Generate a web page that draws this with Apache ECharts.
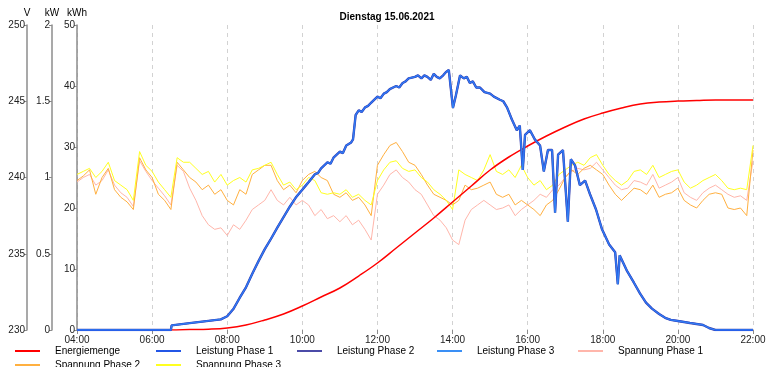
<!DOCTYPE html>
<html><head><meta charset="utf-8">
<script src="https://cdn.jsdelivr.net/npm/echarts@6/dist/echarts.min.js"></script>
<style>html,body{margin:0;padding:0;background:#fff}#c{width:774px;height:367px}</style>
</head><body><div id="c"></div>
<script>
// ---- data ----
const title = 'Dienstag 15.06.2021';
const seriesNames = ['Energiemenge','Leistung Phase 1','Leistung Phase 2','Leistung Phase 3','Spannung Phase 1','Spannung Phase 2','Spannung Phase 3'];
const xTicks = [4,6,8,10,12,14,16,18,20,22];

// Energiemenge (kWh), every 30 min from 04:00 to 22:00
const energyStartHour = 4, energyStepHour = 0.5;
const energiemenge = [0,0,0,0,0,0,0.07,0.13,0.33,0.82,1.64,2.62,3.93,5.41,6.89,8.85,10.98,13.44,15.9,18.36,20.98,23.61,26.23,28.36,30.16,31.8,33.28,34.59,35.57,36.39,37.05,37.38,37.54,37.62,37.7,37.7,37.7];

// Leistung (kW): hour / value pairs
const leistungHours = [4,6.5,6.52,7,7.5,7.83,8,8.17,8.33,8.5,8.67,8.83,9,9.17,9.33,9.5,9.67,9.83,10,10.1,10.17,10.33,10.42,10.5,10.67,10.75,10.83,11,11.08,11.17,11.3,11.35,11.42,11.5,11.58,11.67,11.75,11.83,12,12.08,12.17,12.25,12.33,12.5,12.58,12.67,12.75,12.83,13,13.08,13.17,13.25,13.33,13.42,13.5,13.58,13.66,13.75,13.82,13.9,14.01,14.09,14.2,14.3,14.38,14.46,14.54,14.63,14.73,14.85,15,15.1,15.26,15.35,15.45,15.58,15.71,15.79,15.87,15.93,16.06,16.19,16.33,16.43,16.54,16.65,16.73,16.81,16.94,17.07,17.15,17.26,17.39,17.53,17.66,17.82,17.98,18.17,18.33,18.38,18.4,18.45,18.64,18.83,18.99,19.15,19.31,19.5,19.66,19.81,20,20.32,20.67,20.83,21,22];
const leistungP1 = [0,0,0.03,0.045,0.06,0.07,0.09,0.14,0.21,0.28,0.37,0.45,0.53,0.6,0.67,0.74,0.81,0.87,0.92,0.95,0.97,1.02,1.03,1.06,1.1,1.09,1.13,1.17,1.16,1.21,1.23,1.25,1.41,1.44,1.43,1.46,1.47,1.49,1.53,1.52,1.55,1.56,1.58,1.6,1.59,1.62,1.63,1.65,1.66,1.67,1.65,1.67,1.66,1.64,1.68,1.66,1.65,1.67,1.69,1.705,1.456,1.54,1.67,1.65,1.66,1.62,1.63,1.59,1.59,1.56,1.55,1.53,1.51,1.5,1.46,1.38,1.31,1.34,1.05,1.28,1.31,1.25,1.21,1.04,1.18,1.18,0.77,1.15,1.18,0.71,1.12,1.08,0.95,0.98,0.89,0.79,0.66,0.56,0.51,0.52,0.3,0.49,0.39,0.31,0.24,0.18,0.14,0.105,0.08,0.066,0.059,0.046,0.033,0.013,0,0];
const leistungP2 = leistungP1.slice();
const leistungP3 = leistungP1.slice();

// Spannung (V), every 10 min from 04:00 to 22:00
const voltStartHour = 4, voltStepHour = 1/6;
const spannungP1 = [239.7,240.0,240.2,239.5,239.8,240.5,239.5,239.0,238.7,238.1,241.1,240.4,239.8,239.3,238.8,238.2,240.8,240.4,239.3,238.5,237.5,236.9,236.6,236.7,236.2,236.9,236.6,237.2,237.9,238.2,238.5,239.2,238.5,238.2,238.7,238.2,238.5,238.2,237.5,237.9,237.3,237.5,237.1,237.5,236.9,237.2,236.6,235.9,238.9,239.5,240.2,240.5,240.0,239.7,239.2,238.9,238.2,237.5,237.2,236.7,235.9,235.6,237.2,237.9,238.2,238.5,238.2,237.9,238.0,238.2,237.5,237.9,238.2,238.5,238.9,238.7,239.2,239.5,240.0,240.4,240.6,240.5,240.6,241.0,240.5,240.0,239.5,239.2,239.3,239.8,239.7,239.5,240.2,239.3,239.5,239.7,240.0,239.0,238.7,238.5,239.0,239.3,239.5,239.2,238.9,238.7,238.8,238.5,241.1];
const spannungP2 = [239.8,240.1,240.5,238.9,240.0,240.6,239.2,238.7,238.4,237.9,241.3,240.5,240.0,238.9,238.5,237.9,241.0,240.5,240.0,239.7,239.2,239.5,238.9,239.2,238.5,238.2,239.2,238.9,240.2,240.5,240.8,240.8,239.8,239.2,239.5,239.0,239.8,240.2,240.4,240.0,239.8,238.9,238.7,239.0,238.5,238.7,238.2,237.5,240.8,241.5,242.1,242.3,241.7,241.0,240.8,240.2,239.5,238.9,238.7,238.5,238.2,238.5,239.5,239.2,239.3,239.5,239.7,238.9,238.7,238.9,238.2,238.5,238.2,237.9,237.5,238.2,238.5,239.2,240.0,240.5,240.2,240.6,240.8,240.5,240.2,239.5,238.9,238.5,238.9,239.3,239.2,238.9,239.5,238.7,238.9,239.0,239.3,238.5,238.2,238.0,238.5,238.9,239.0,238.9,238.0,237.9,238.0,237.5,241.8];
const spannungP3 = [240.2,240.4,240.6,240.0,240.4,241.0,239.8,239.5,239.2,238.5,241.7,240.8,240.4,239.7,239.2,238.7,241.3,241.0,241.0,240.6,240.2,240.4,239.7,240.2,239.5,239.8,240.0,239.7,240.5,240.6,240.8,241.0,240.2,239.5,239.7,239.2,239.5,240.0,239.8,239.0,238.9,239.0,238.9,239.2,238.7,238.9,238.5,238.2,239.8,240.5,241.0,241.1,240.6,240.4,240.5,240.0,239.7,239.2,238.9,238.5,237.9,240.5,240.2,240.0,239.8,240.5,241.5,240.4,240.2,240.5,240.0,240.8,240.0,239.5,239.8,239.2,239.5,240.2,240.5,240.8,241.0,240.8,241.3,241.5,240.8,240.2,239.8,239.5,239.8,240.4,240.5,240.2,240.8,240.0,240.2,240.4,240.5,239.7,239.3,239.5,239.8,240.0,240.2,239.8,239.3,239.2,239.3,239.2,242.1];

const colors = ['#ff0000','#2356e6','#4b4ba8','#3a8ff5','#ffb6ab','#ffb040','#ffff20'];

// ---- build ----
const pairs = (hours, vals) => vals.map((v,i)=>[hours[i], v]);
const regular = (start, step, vals) => vals.map((v,i)=>[start + i*step, v]);
const font = 'Liberation Sans, Arial, sans-serif';
const pad2 = n => (n<10?'0':'')+n;

const yBase = {
  type:'value', position:'left',
  axisLine:{show:true, lineStyle:{color:'#8c8c8c', width:1.5}},
  axisTick:{show:true, length:3, lineStyle:{color:'#8c8c8c'}},
  axisLabel:{color:'#222', fontSize:10, fontFamily:font, margin:2},
  splitLine:{show:false},
  nameLocation:'end', nameGap:7,
  nameTextStyle:{color:'#000', fontSize:10, fontFamily:font, align:'center'}
};

const legendPos = [[15,346],[156,346],[297,346],[437,346],[578,346],[15,360],[156,360]];

const option = {
  animation:false,
  backgroundColor:'#fff',
  title:{text:title, left:'center', top:7, textStyle:{fontSize:10, fontWeight:'bold', color:'#000', fontFamily:font}},
  grid:{left:77, right:21, top:25, bottom:37, containLabel:false},
  legend: seriesNames.map((n,i)=>({
    data:[n], left:legendPos[i][0], top:legendPos[i][1], padding:0,
    icon:'rect', itemWidth:25, itemHeight:2,
    textStyle:{fontSize:10, fontFamily:font, color:'#000', padding:[0,0,0,10]}
  })),
  xAxis:{
    type:'value', min:4, max:22, interval:2,
    axisLine:{show:false},
    axisTick:{show:true, length:4, lineStyle:{color:'#8c8c8c'}},
    axisLabel:{color:'#222', fontSize:10, fontFamily:font, margin:5, formatter:v=>pad2(v)+':00'},
    splitLine:{show:true, lineStyle:{color:'#d2d2d2', type:[4,4], width:1}}
  },
  yAxis:[
    Object.assign({}, yBase, {name:'kWh', min:0, max:50, interval:10, offset:0}),
    Object.assign({}, yBase, {name:'kW', min:0, max:2, interval:0.5, offset:25}),
    Object.assign({}, yBase, {name:'V', min:230, max:250, interval:5, offset:50})
  ],
  series:[
    {name:seriesNames[0], type:'line', yAxisIndex:0, data:regular(energyStartHour, energyStepHour, energiemenge), smooth:0.4, showSymbol:false, z:4, lineStyle:{color:colors[0], width:1.5}, itemStyle:{color:colors[0]}},
    {name:seriesNames[2], type:'line', yAxisIndex:1, data:pairs(leistungHours, leistungP2), showSymbol:false, z:5, lineStyle:{color:colors[2], width:2.4}, itemStyle:{color:colors[2]}},
    {name:seriesNames[1], type:'line', yAxisIndex:1, data:pairs(leistungHours, leistungP1), showSymbol:false, z:6, lineStyle:{color:colors[1], width:1.8}, itemStyle:{color:colors[1]}},
    {name:seriesNames[3], type:'line', yAxisIndex:1, data:pairs(leistungHours, leistungP3), showSymbol:false, z:7, lineStyle:{color:colors[3], width:0.8}, itemStyle:{color:colors[3]}},
    {name:seriesNames[4], type:'line', yAxisIndex:2, data:regular(voltStartHour, voltStepHour, spannungP1), showSymbol:false, z:2, lineStyle:{color:colors[4], width:1}, itemStyle:{color:colors[4]}},
    {name:seriesNames[5], type:'line', yAxisIndex:2, data:regular(voltStartHour, voltStepHour, spannungP2), showSymbol:false, z:2, lineStyle:{color:colors[5], width:1}, itemStyle:{color:colors[5]}},
    {name:seriesNames[6], type:'line', yAxisIndex:2, data:regular(voltStartHour, voltStepHour, spannungP3), showSymbol:false, z:2, lineStyle:{color:colors[6], width:1}, itemStyle:{color:colors[6]}}
  ]
};
const chart = echarts.init(document.getElementById('c'), null, {renderer:'canvas'});
chart.setOption(option);
</script></body></html>
